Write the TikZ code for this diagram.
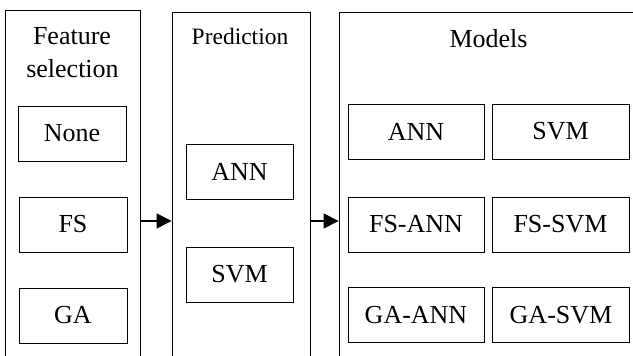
\documentclass[tikz,border=0pt]{standalone}
\usepackage{fontspec}
\setmainfont{Liberation Serif}
\usetikzlibrary{arrows.meta}
\begin{document}
\begin{tikzpicture}[x=1pt,y=-1pt,
  outer/.style={draw,line width=0.8pt,inner sep=0pt,minimum height=390pt},
  inner/.style={draw,line width=0.8pt,inner sep=0pt,minimum height=55pt,font=\fontsize{26}{30}\selectfont},
  title/.style={anchor=base,inner sep=0pt,font=\fontsize{26}{30}\selectfont},
  arr/.style={line width=1.2pt,-{Triangle[length=15pt,width=15pt]}}]
\useasboundingbox (0,0) rectangle (633,356);
\clip (0,0) rectangle (633,356);
\node[outer,minimum width=135pt] (b1) at (72.5,205) {};
\node[outer,minimum width=138pt] (b2) at (241,207.5) {};
\node[outer,minimum width=361pt] (b3) at (519.5,207) {};
\node[title] (t1a) at (72,45) {Feature};
\node[title] (t1b) at (72.5,77) {selection};
\node[title,font=\fontsize{23.5}{28}\selectfont] (t2) at (240,45) {Prediction};
\node[title] (t3) at (488.5,47) {Models};
\node[inner,minimum width=108pt] (none) at (72,133.5) {None};
\node[inner,minimum width=108pt] (fs) at (73,224.5) {FS};
\node[inner,minimum width=108pt] (ga) at (73,315.5) {GA};
\node[inner,minimum width=107pt] (pann) at (239.5,171.5) {ANN};
\node[inner,minimum width=107pt] (psvm) at (239.5,274.5) {SVM};
\node[inner,minimum width=136pt] (mann) at (416,131.5) {ANN};
\node[inner,minimum width=137pt] (msvm) at (560.5,131.5) {SVM};
\node[inner,minimum width=136pt] (fsann) at (416,224.5) {FS-ANN};
\node[inner,minimum width=137pt] (fssvm) at (560.5,224.5) {FS-SVM};
\node[inner,minimum width=136pt] (gaann) at (416,315) {GA-ANN};
\node[inner,minimum width=137pt] (gasvm) at (561,315) {GA-SVM};
\coordinate (ay) at (0,221);
\draw[arr] (b1.east |- ay) -- (b2.west |- ay);
\draw[arr] (b2.east |- ay) -- (b3.west |- ay);
\end{tikzpicture}
\end{document}
